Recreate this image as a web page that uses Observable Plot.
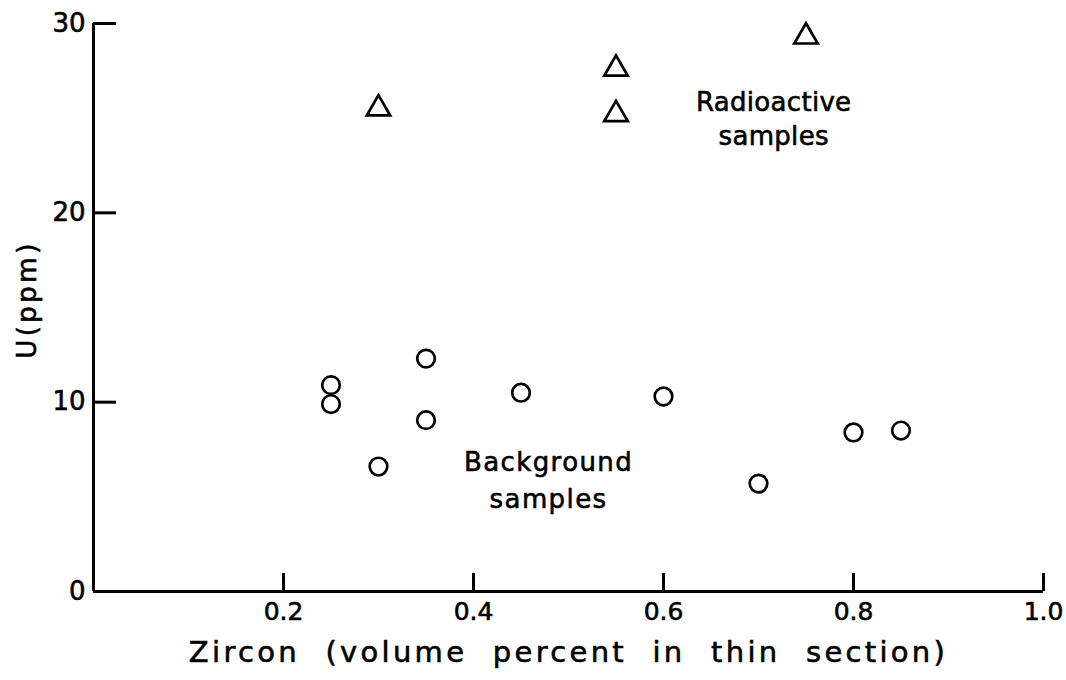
<!DOCTYPE html>
<html>
<head>
<meta charset="utf-8">
<script src="https://cdn.jsdelivr.net/npm/d3@7"></script>
<script src="https://cdn.jsdelivr.net/npm/@observablehq/plot@0.6"></script>
<style>
  html, body { margin: 0; padding: 0; background: #fff; }
  svg text { stroke: #000; stroke-width: 0.6px; }
</style>
</head>
<body>
<div id="chart"></div>
<script>
// Radioactive samples (triangles)
const radioZircon = [0.30, 0.55, 0.55, 0.75];
const radioU      = [25.5, 27.6, 25.2, 29.3];
// Background samples (circles)
const bgZircon = [0.25, 0.25, 0.30, 0.35, 0.35, 0.45, 0.60, 0.70, 0.80, 0.85];
const bgU      = [10.9, 9.9, 6.6, 12.3, 9.05, 10.5, 10.3, 5.7, 8.4, 8.5];
// Tick labels
const xTicks = [0.2, 0.4, 0.6, 0.8, 1.0];
const xTickLabels = ["0.2", "0.4", "0.6", "0.8", "1.0"];
const yTicks = [0, 10, 20, 30];
const yTickLabels = ["0", "10", "20", "30"];
const xTitle = "Zircon (volume percent in thin section)";
const yTitle = "U(ppm)";
const radioLabel = "Radioactive\nsamples";
const bgLabel = "Background\nsamples";

const radio = radioZircon.map((x, i) => ({x, y: radioU[i]}));
const bg = bgZircon.map((x, i) => ({x, y: bgU[i]}));

const font = "'DejaVu Sans', Lato, sans-serif";

const chart = Plot.plot({
  width: 1066,
  height: 680,
  marginLeft: 93,
  marginRight: 23,
  marginTop: 23,
  marginBottom: 89,
  style: {fontFamily: font, background: "#fff", color: "#000"},
  x: {domain: [0, 1], axis: null},
  y: {domain: [0, 30], axis: null},
  marks: [
    Plot.axisX(xTicks, {
      anchor: "bottom",
      tickSize: -18,
      tickPadding: 29,
      strokeWidth: 3,
      fontSize: 25,
      tickFormat: (d) => xTickLabels[xTicks.indexOf(d)],
      label: null
    }),
    Plot.axisY(yTicks, {
      anchor: "left",
      tickSize: -23,
      tickPadding: 31,
      strokeWidth: 3,
      fontSize: 26,
      tickFormat: (d) => yTickLabels[yTicks.indexOf(d)],
      label: null
    }),
    Plot.ruleX([0], {stroke: "#000", strokeWidth: 3}),
    Plot.ruleY([0], {stroke: "#000", strokeWidth: 3}),
    Plot.dot(radio, {x: "x", y: "y", symbol: "triangle", r: 8.7, stroke: "#000", strokeWidth: 2.7, fill: "none"}),
    Plot.dot(bg, {x: "x", y: "y", symbol: "circle", r: 8.8, stroke: "#000", strokeWidth: 2.7, fill: "none"}),
    Plot.text([radioLabel], {x: 0.716, y: 25.05, text: d => d, fontSize: 26, lineHeight: 1.32, fill: "#000"}),
    Plot.text([bgLabel], {x: 0.479, y: 6.0, text: d => d, fontSize: 26, lineHeight: 1.4, fill: "#000"}),
    Plot.text([xTitle], {frameAnchor: "bottom", textAnchor: "middle", lineAnchor: "middle", dy: 61, text: d => d, fontSize: 29, fill: "#000"}),
    Plot.text([yTitle], {frameAnchor: "left", textAnchor: "middle", lineAnchor: "middle", dx: -66, dy: -8, rotate: -90, text: d => d, fontSize: 26, fill: "#000"})
  ]
});

// letter spacing for the hand-lettered look
const spacing = new Map([
  [xTitle, {ls: "3.3px", ws: "13px"}],
  [yTitle, {ls: "3.5px", ws: "0px"}],
  [bgLabel.replace("\n", ""), {ls: "1.4px", ws: "0px"}],
  [radioLabel.replace("\n", ""), {ls: "0.3px", ws: "0px"}]
]);
d3.select(chart).selectAll("text").each(function() {
  const s = spacing.get(this.textContent);
  if (s) {
    this.style.letterSpacing = s.ls;
    this.style.wordSpacing = s.ws;
  }
});
document.getElementById("chart").appendChild(chart);
</script>
</body>
</html>
